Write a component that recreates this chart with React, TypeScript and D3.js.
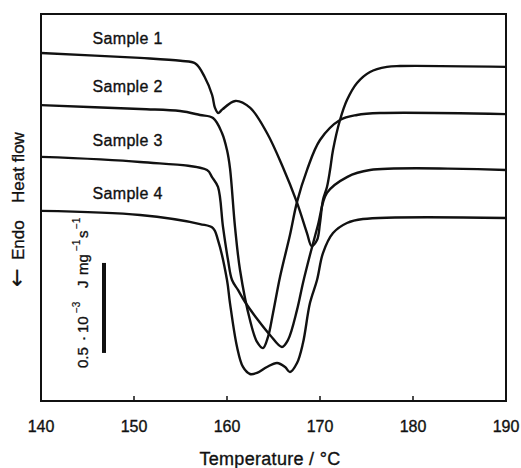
import React from "react";
import * as d3 from "d3";

// Temperature (°C) and heat-flow (arbitrary units, 1 unit = 1e-4 J mg^-1 s^-1) for each DSC trace
const s1T = [140, 150.65, 155, 156.6, 157.6, 158.4, 158.7, 159.05, 159.5, 160.9, 162.5, 164.3, 166.0, 167.5, 168.6, 169.1, 169.68, 170.0, 170.32, 170.75, 171.08, 171.4, 172.15, 172.9, 173.98, 175.38, 177.2, 178.6, 190];
const s1V = [19.33, 19.06, 18.9, 18.75, 18.0, 17.0, 16.3, 16.0, 16.2, 16.67, 16.28, 14.89, 13.0, 11.06, 9.33, 8.61, 8.94, 9.89, 11.17, 11.89, 12.83, 13.94, 15.61, 16.72, 17.67, 18.28, 18.56, 18.61, 18.56];

const s2T = [140, 150.65, 154.95, 157.1, 158.5, 159.46, 160.0, 160.32, 160.86, 161.4, 162.47, 163.23, 163.87, 164.41, 164.95, 165.7, 166.77, 167.53, 168.6, 170.0, 172.15, 173.98, 176.45, 190];
const s2V = [16.44, 16.22, 16.11, 15.89, 15.72, 14.89, 13.94, 12.94, 9.67, 7.28, 4.5, 3.28, 2.94, 3.56, 4.89, 6.89, 9.22, 11.06, 12.83, 14.5, 15.61, 15.89, 16.0, 15.94];

const s3T = [140, 150.65, 157.85, 158.39, 159.03, 159.57, 160.11, 160.54, 161.18, 161.94, 163.33, 164.62, 165.91, 166.56, 167.53, 168.17, 168.92, 169.78, 170.75, 172.9, 175.38, 190];
const s3V = [13.56, 13.28, 12.83, 12.44, 11.89, 9.67, 7.83, 6.72, 6.17, 5.5, 4.5, 3.67, 3.0, 3.39, 5.06, 6.56, 8.11, 9.78, 11.56, 12.44, 12.83, 12.83];

const s4T = [140, 150.65, 157.1, 158.49, 159.03, 160.0, 160.32, 161.08, 161.72, 162.47, 163.23, 164.3, 165.38, 166.24, 166.77, 167.53, 168.17, 168.92, 169.68, 170.32, 171.4, 172.9, 174.62, 190];
const s4V = [10.56, 10.33, 9.83, 9.61, 8.94, 6.72, 5.44, 3.0, 1.89, 1.5, 1.56, 1.89, 2.11, 1.89, 1.61, 2.11, 3.22, 5.44, 6.72, 8.22, 9.33, 9.89, 10.11, 10.17];

const sampleNames = ["Sample 1", "Sample 2", "Sample 3", "Sample 4"];
const sampleLabelT = [145.55, 145.55, 145.55, 145.55];
const sampleLabelV = [19.83, 17.17, 14.17, 11.22];

const xTicks = [140, 150, 160, 170, 180, 190];
const scaleBarV = [2.67, 7.67]; // 0.5e-3 J mg^-1 s^-1 bar

export default function App() {
  const W = 521, H = 468;
  const x = d3.scaleLinear().domain([140, 190]).range([41, 506]);
  const y = d3.scaleLinear().domain([0, 21.5]).range([401, 14]);
  const line = d3
    .line<[number, number]>()
    .x((d) => x(d[0]))
    .y((d) => y(d[1]))
    .curve(d3.curveCatmullRom.alpha(0.5));
  const series = [
    [s1T, s1V],
    [s2T, s2V],
    [s3T, s3V],
    [s4T, s4V],
  ].map(([t, v]) => t.map((tt, i) => [tt, v[i]] as [number, number]));
  const font = "'Liberation Sans', Arial, sans-serif";
  const ink = "#111";
  const txt = { fill: ink, stroke: ink, strokeWidth: 0.35 };

  return (
    <svg
      width={W}
      height={H}
      style={{ position: "absolute", left: 0, top: 0, background: "#fff" }}
      fontFamily={font}
    >
      <rect x={0} y={0} width={W} height={H} fill="#fff" />
      <defs>
        <clipPath id="clip">
          <rect x={41} y={14} width={465} height={387} />
        </clipPath>
      </defs>
      <g clipPath="url(#clip)">
        {series.map((s, i) => (
          <path key={i} d={line(s) || ""} fill="none" stroke={ink} strokeWidth={2.4} strokeLinejoin="round" />
        ))}
      </g>
      {/* frame */}
      <rect x={x(140)} y={y(21.5)} width={x(190) - x(140)} height={y(0) - y(21.5)} fill="none" stroke={ink} strokeWidth={2} />
      {xTicks.map((t) => (
        <g key={t}>
          {t > 140 && t < 190 && (
            <line x1={x(t)} x2={x(t)} y1={y(0)} y2={y(0) - 5} stroke={ink} strokeWidth={1.5} />
          )}
          <text x={x(t)} y={432} textAnchor="middle" fontSize={16} {...txt}>
            {t}
          </text>
        </g>
      ))}
      <text x={270} y={465} textAnchor="middle" fontSize={18} letterSpacing={0.3} {...txt}>
        Temperature / °C
      </text>
      {/* y-axis label, rotated */}
      <g transform="translate(24,287) rotate(-90)">
        <text x={0} y={0} fontSize={22} fontFamily="'DejaVu Sans', sans-serif" {...txt} strokeWidth={0.2}>
          ←
        </text>
        <text x={27} y={0} fontSize={17} {...txt}>
          Endo
        </text>
        <text x={84} y={0} fontSize={17} {...txt}>
          Heat flow
        </text>
      </g>
      {sampleNames.map((n, i) => (
        <text key={n} x={x(sampleLabelT[i])} y={y(sampleLabelV[i])} fontSize={16} letterSpacing={0.3} {...txt}>
          {n}
        </text>
      ))}
      {/* scale bar */}
      <line x1={104} x2={104} y1={y(scaleBarV[1])} y2={y(scaleBarV[0])} stroke={ink} strokeWidth={4} />
      <g transform="translate(88,370) rotate(-90)">
        <text x={2} y={0} fontSize={15} {...txt}>0.5</text>
        <text x={29} y={0} fontSize={15} {...txt}>·</text>
        <text x={37} y={0} fontSize={15} {...txt}>10</text>
        <text x={57} y={-8} fontSize={10} {...txt} strokeWidth={0.2}>−3</text>
        <text x={82} y={0} fontSize={15} {...txt}>J</text>
        <text x={95} y={0} fontSize={15} {...txt}>mg</text>
        <text x={119} y={-8} fontSize={10} {...txt} strokeWidth={0.2}>−1</text>
        <text x={132} y={0} fontSize={15} {...txt}>s</text>
        <text x={141} y={-8} fontSize={10} {...txt} strokeWidth={0.2}>−1</text>
      </g>
    </svg>
  );
}
